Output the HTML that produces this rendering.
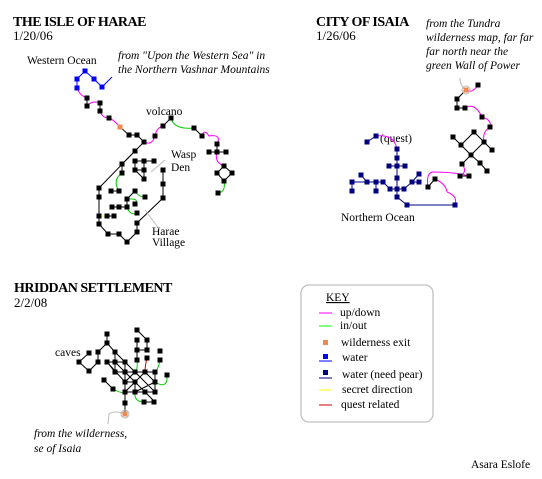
<!DOCTYPE html>
<html><head><style>
body{margin:0;background:#fff;}
svg{display:block;font-family:"Liberation Serif",serif;}
.t{font-weight:bold;font-size:14px;letter-spacing:-0.5px}
.d{font-size:13px}
.l{font-size:11.5px}
.i{font-size:11.5px;font-style:italic}
g.n rect{width:5px;height:5px}
</style></head><body>
<svg width="542" height="479" viewBox="0 0 542 479" xmlns="http://www.w3.org/2000/svg">
<rect width="542" height="479" fill="#fff"/>
<text class="t" x="13" y="26">THE ISLE OF HARAE</text>
<text class="d" x="13" y="40">1/20/06</text>
<text class="l" x="27" y="64">Western Ocean</text>
<text class="i" x="118" y="59">from "Upon the Western Sea" in</text>
<text class="i" x="118" y="73">the Northern Vashnar Mountains</text>
<text class="l" x="146" y="115">volcano</text>
<text class="l" x="171" y="158">Wasp</text>
<text class="l" x="171" y="171">Den</text>
<text class="l" x="152" y="235">Harae</text>
<text class="l" x="152" y="246">Village</text>

<text class="t" x="316" y="26">CITY OF ISAIA</text>
<text class="d" x="316" y="40">1/26/06</text>
<text class="i" x="426" y="27">from the Tundra</text>
<text class="i" x="426" y="41">wilderness map, far far</text>
<text class="i" x="426" y="55">far north near the</text>
<text class="i" x="426" y="69">green Wall of Power</text>
<text class="l" x="380" y="142">(quest)</text>
<text class="l" x="341" y="221">Northern Ocean</text>

<text class="t" x="14" y="292">HRIDDAN SETTLEMENT</text>
<text class="d" x="14" y="307">2/2/08</text>
<text class="l" x="55" y="356">caves</text>
<text class="i" x="34" y="437">from the wilderness,</text>
<text class="i" x="34" y="452">se of Isaia</text>
<text class="l" x="471" y="468">Asara Eslofe</text>

<rect x="301" y="285" width="132" height="137" rx="8" fill="#fff" stroke="#c0c0c0" stroke-width="1.3"/>
<text class="l" x="326" y="301" text-decoration="underline">KEY</text>
<line x1="319" y1="313" x2="332" y2="313" stroke="#f0f"/><text class="l" x="340" y="316">up/down</text>
<line x1="319" y1="326" x2="332" y2="326" stroke="#0f0"/><text class="l" x="340" y="329">in/out</text>
<rect x="323" y="340" width="5" height="5" fill="#f08850"/><text class="l" x="341" y="346">wilderness exit</text>
<rect x="323" y="354" width="5" height="5" fill="#00f"/><line x1="319" y1="361" x2="332" y2="361" stroke="#00f"/><text class="l" x="342" y="361">water</text>
<rect x="323" y="370" width="5" height="5" fill="#00007f"/><line x1="319" y1="378" x2="332" y2="378" stroke="#00007f"/><text class="l" x="342" y="378">water (need pear)</text>
<line x1="319" y1="390" x2="332" y2="390" stroke="#ff0"/><text class="l" x="342" y="393">secret direction</text>
<line x1="319" y1="405" x2="332" y2="405" stroke="#c00"/><text class="l" x="341" y="408">quest related</text>

<g fill="none" stroke-width="1">
<path stroke="#00f" d="M77,79 L85,71 L94,79 L102,87 L112,77 M77,79 L77,88"/>
<path stroke="#f0f" d="M77,88 Q80,96 87,98 M87,106 Q92,100 100,103 M100,111 Q102,118 109,118 M109,118 Q114,120 120,127 M144,142 Q152,146 155,136 M155,136 Q156,128 163,126 M217,144 Q222,134 209,136 Q204,128 202,136 M217,152 Q214,162 224,166"/>
<path stroke="#000" d="M120,127 L129,135 L137,135 L144,142 L135,151 L99,188 L99,224 L108,234 L119,234 L127,242 L137,232 L137,223 L163,198 L163,170 M163,126 L171,118 M194,128 L202,136 M209,152 L226,152 M217,144 L217,152 M224,166 L217,173 L224,181 L232,173 L224,166 M87,98 L87,106 M100,103 L100,111 M135,161 L154,161 M144,161 L144,179 M135,161 L135,170 L144,170 M135,170 L144,179 M122,164 L122,173 M111,191 L119,191 M127,199 L135,191 M112,207 L127,207 M127,199 L127,207 M99,216 L114,216 M135,151 L122,164"/>
<path stroke="#0c0" d="M171,118 Q174,130 194,128 M224,181 Q226,192 218,193 M122,173 Q112,180 119,191 M135,191 Q140,198 145,197 M127,199 Q140,198 135,204 M127,207 Q130,216 137,213"/>
<path stroke="#ff0" d="M99,216 L107,216"/>
<path stroke="#bbb" d="M165,160 L151,172 M160,230 L145,210"/>
<path stroke="#bbb" d="M466,90 Q460,86 460,78"/>
<path stroke="#f0f" d="M466,90 Q472,94 478,85 M465,108 Q475,102 482,117 M482,117 Q492,120 490,127 M490,127 Q482,132 484,142 M460,176 Q468,172 462,164 M469,176 Q455,172 432,172 Q426,174 428,187 M435,179 Q446,184 447,192 M447,192 Q458,196 455,205 M376,136 Q394,134 397,149"/>
<path stroke="#000" d="M466,90 L457,99 L457,108 L465,108 M453,137 L461,145 L474,132 L484,142 L492,150 M484,142 L471,155 L461,145 M471,155 L462,164 M471,155 L480,163 L487,171 M428,187 L435,179 M460,176 L469,176"/>
<path stroke="#00007f" d="M376,136 L367,142 M397,149 L397,197 L407,205 L455,205 M389,166 L405,166 M352,182 L383,182 M361,175 L367,182 M352,182 L352,191 M376,182 L376,191 M383,182 L390,189 L404,189 L412,182 M412,182 L419,174 M412,182 L419,182"/>
<path stroke="#000" d="M107,334 L107,343 L98,352 L98,362 L89,371 L79,362 L89,353 M107,343 L115,352 L125,362 M107,362 L125,362 M115,352 L115,372 M107,362 L125,382 M107,362 L115,372 M115,362 L125,372 M125,362 L125,403 M115,372 L155,372 M125,372 L155,402 M135,372 L125,382 M135,372 L155,392 M145,372 L155,382 M155,372 L155,392 M145,372 L125,392 M155,382 L135,392 M125,392 L155,392 M125,382 L135,382 M135,382 L135,392 M125,362 L135,372 M137,330 L147,340 L147,350 L137,350 L137,340 L137,360 M104,380 L113,389 M144,402 L154,402 M125,403 L125,414"/>
<path stroke="#0c0" d="M137,360 Q138,370 135,372 M160,360 Q158,370 155,372 M167,375 Q168,390 155,382 M113,389 Q122,394 125,392 M135,392 Q134,402 144,402"/>
<path stroke="#c00" d="M147,358 Q145,366 145,372"/>
<path stroke="#bbb" d="M125,414 Q115,410 109,414 L108,424 M125,414 m-4,0 a4,4 0 1,0 8,0 a4,4 0 1,0 -8,0"/>
<path stroke="#bbb" d="M466,90 m-4,0 a4,4 0 1,0 8,0 a4,4 0 1,0 -8,0"/>
</g>

<g fill="#000" class="n" transform="translate(-2.5,-2.5)">
<rect x="87" y="98" width="5" height="5"/><rect x="87" y="106" width="5" height="5"/><rect x="100" y="103" width="5" height="5"/><rect x="100" y="111" width="5" height="5"/><rect x="109" y="118" width="5" height="5"/>
<rect x="129" y="135" width="5" height="5"/><rect x="137" y="135" width="5" height="5"/><rect x="144" y="142" width="5" height="5"/><rect x="135" y="151" width="5" height="5"/>
<rect x="163" y="126" width="5" height="5"/><rect x="155" y="136" width="5" height="5"/><rect x="171" y="118" width="5" height="5"/><rect x="194" y="128" width="5" height="5"/><rect x="202" y="136" width="5" height="5"/><rect x="217" y="144" width="5" height="5"/><rect x="209" y="152" width="5" height="5"/><rect x="217" y="152" width="5" height="5"/><rect x="226" y="152" width="5" height="5"/><rect x="224" y="166" width="5" height="5"/><rect x="217" y="173" width="5" height="5"/><rect x="232" y="173" width="5" height="5"/><rect x="224" y="181" width="5" height="5"/><rect x="218" y="193" width="5" height="5"/>
<rect x="122" y="164" width="5" height="5"/><rect x="122" y="173" width="5" height="5"/><rect x="135" y="161" width="5" height="5"/><rect x="144" y="161" width="5" height="5"/><rect x="154" y="161" width="5" height="5"/><rect x="135" y="170" width="5" height="5"/><rect x="144" y="170" width="5" height="5"/><rect x="144" y="179" width="5" height="5"/><rect x="163" y="170" width="5" height="5"/><rect x="163" y="184" width="5" height="5"/><rect x="163" y="198" width="5" height="5"/>
<rect x="111" y="191" width="5" height="5"/><rect x="119" y="191" width="5" height="5"/><rect x="127" y="199" width="5" height="5"/><rect x="135" y="191" width="5" height="5"/><rect x="145" y="197" width="5" height="5"/><rect x="112" y="207" width="5" height="5"/><rect x="119" y="207" width="5" height="5"/><rect x="127" y="207" width="5" height="5"/><rect x="135" y="204" width="5" height="5"/><rect x="137" y="213" width="5" height="5"/>
<rect x="99" y="188" width="5" height="5"/><rect x="99" y="197" width="5" height="5"/><rect x="99" y="216" width="5" height="5"/><rect x="107" y="216" width="5" height="5"/><rect x="114" y="216" width="5" height="5"/><rect x="99" y="224" width="5" height="5"/><rect x="108" y="234" width="5" height="5"/><rect x="119" y="234" width="5" height="5"/><rect x="127" y="242" width="5" height="5"/><rect x="137" y="232" width="5" height="5"/><rect x="137" y="223" width="5" height="5"/>
<rect x="478" y="85" width="5" height="5"/><rect x="457" y="99" width="5" height="5"/><rect x="457" y="108" width="5" height="5"/><rect x="465" y="108" width="5" height="5"/><rect x="482" y="117" width="5" height="5"/><rect x="490" y="127" width="5" height="5"/><rect x="484" y="142" width="5" height="5"/><rect x="474" y="132" width="5" height="5"/><rect x="461" y="145" width="5" height="5"/><rect x="453" y="137" width="5" height="5"/><rect x="471" y="155" width="5" height="5"/><rect x="492" y="150" width="5" height="5"/><rect x="480" y="163" width="5" height="5"/><rect x="487" y="171" width="5" height="5"/><rect x="462" y="164" width="5" height="5"/><rect x="460" y="176" width="5" height="5"/><rect x="469" y="176" width="5" height="5"/><rect x="428" y="187" width="5" height="5"/><rect x="435" y="179" width="5" height="5"/>
<rect x="107" y="334" width="5" height="5"/><rect x="107" y="343" width="5" height="5"/><rect x="98" y="352" width="5" height="5"/><rect x="89" y="353" width="5" height="5"/><rect x="79" y="362" width="5" height="5"/><rect x="89" y="371" width="5" height="5"/><rect x="98" y="362" width="5" height="5"/><rect x="115" y="352" width="5" height="5"/><rect x="107" y="362" width="5" height="5"/><rect x="115" y="362" width="5" height="5"/><rect x="125" y="362" width="5" height="5"/><rect x="115" y="372" width="5" height="5"/><rect x="125" y="372" width="5" height="5"/><rect x="135" y="372" width="5" height="5"/><rect x="145" y="372" width="5" height="5"/><rect x="155" y="372" width="5" height="5"/>
<rect x="137" y="330" width="5" height="5"/><rect x="137" y="340" width="5" height="5"/><rect x="147" y="340" width="5" height="5"/><rect x="137" y="350" width="5" height="5"/><rect x="147" y="350" width="5" height="5"/><rect x="137" y="360" width="5" height="5"/><rect x="147" y="358" width="5" height="5"/><rect x="160" y="351" width="5" height="5"/><rect x="160" y="360" width="5" height="5"/><rect x="167" y="375" width="5" height="5"/>
<rect x="125" y="382" width="5" height="5"/><rect x="135" y="382" width="5" height="5"/><rect x="155" y="382" width="5" height="5"/><rect x="104" y="380" width="5" height="5"/><rect x="113" y="389" width="5" height="5"/><rect x="125" y="392" width="5" height="5"/><rect x="135" y="392" width="5" height="5"/><rect x="145" y="392" width="5" height="5"/><rect x="155" y="392" width="5" height="5"/><rect x="144" y="402" width="5" height="5"/><rect x="154" y="402" width="5" height="5"/><rect x="125" y="403" width="5" height="5"/>
</g>
<g class="n" transform="translate(-2.5,-2.5)" fill="#00f">
<rect x="85" y="71" width="5" height="5"/><rect x="77" y="79" width="5" height="5"/><rect x="94" y="79" width="5" height="5"/><rect x="102" y="87" width="5" height="5"/><rect x="77" y="88" width="5" height="5"/>
</g>
<g class="n" transform="translate(-2.5,-2.5)" fill="#00007f">
<rect x="376" y="136" width="5" height="5"/><rect x="367" y="142" width="5" height="5"/><rect x="397" y="149" width="5" height="5"/><rect x="397" y="158" width="5" height="5"/><rect x="389" y="166" width="5" height="5"/><rect x="397" y="166" width="5" height="5"/><rect x="405" y="166" width="5" height="5"/><rect x="397" y="178" width="5" height="5"/><rect x="361" y="175" width="5" height="5"/><rect x="352" y="182" width="5" height="5"/><rect x="367" y="182" width="5" height="5"/><rect x="376" y="182" width="5" height="5"/><rect x="383" y="182" width="5" height="5"/><rect x="352" y="191" width="5" height="5"/><rect x="376" y="191" width="5" height="5"/><rect x="390" y="189" width="5" height="5"/><rect x="397" y="189" width="5" height="5"/><rect x="404" y="189" width="5" height="5"/><rect x="412" y="182" width="5" height="5"/><rect x="419" y="174" width="5" height="5"/><rect x="419" y="182" width="5" height="5"/><rect x="397" y="197" width="5" height="5"/><rect x="407" y="205" width="5" height="5"/><rect x="455" y="205" width="5" height="5"/>
</g>
<g class="n" transform="translate(-2.5,-2.5)" fill="#f08850">
<rect x="120" y="127" width="5" height="5"/><rect x="466" y="90" width="5" height="5"/><rect x="125" y="414" width="5" height="5"/>
</g>
</svg>
</body></html>
